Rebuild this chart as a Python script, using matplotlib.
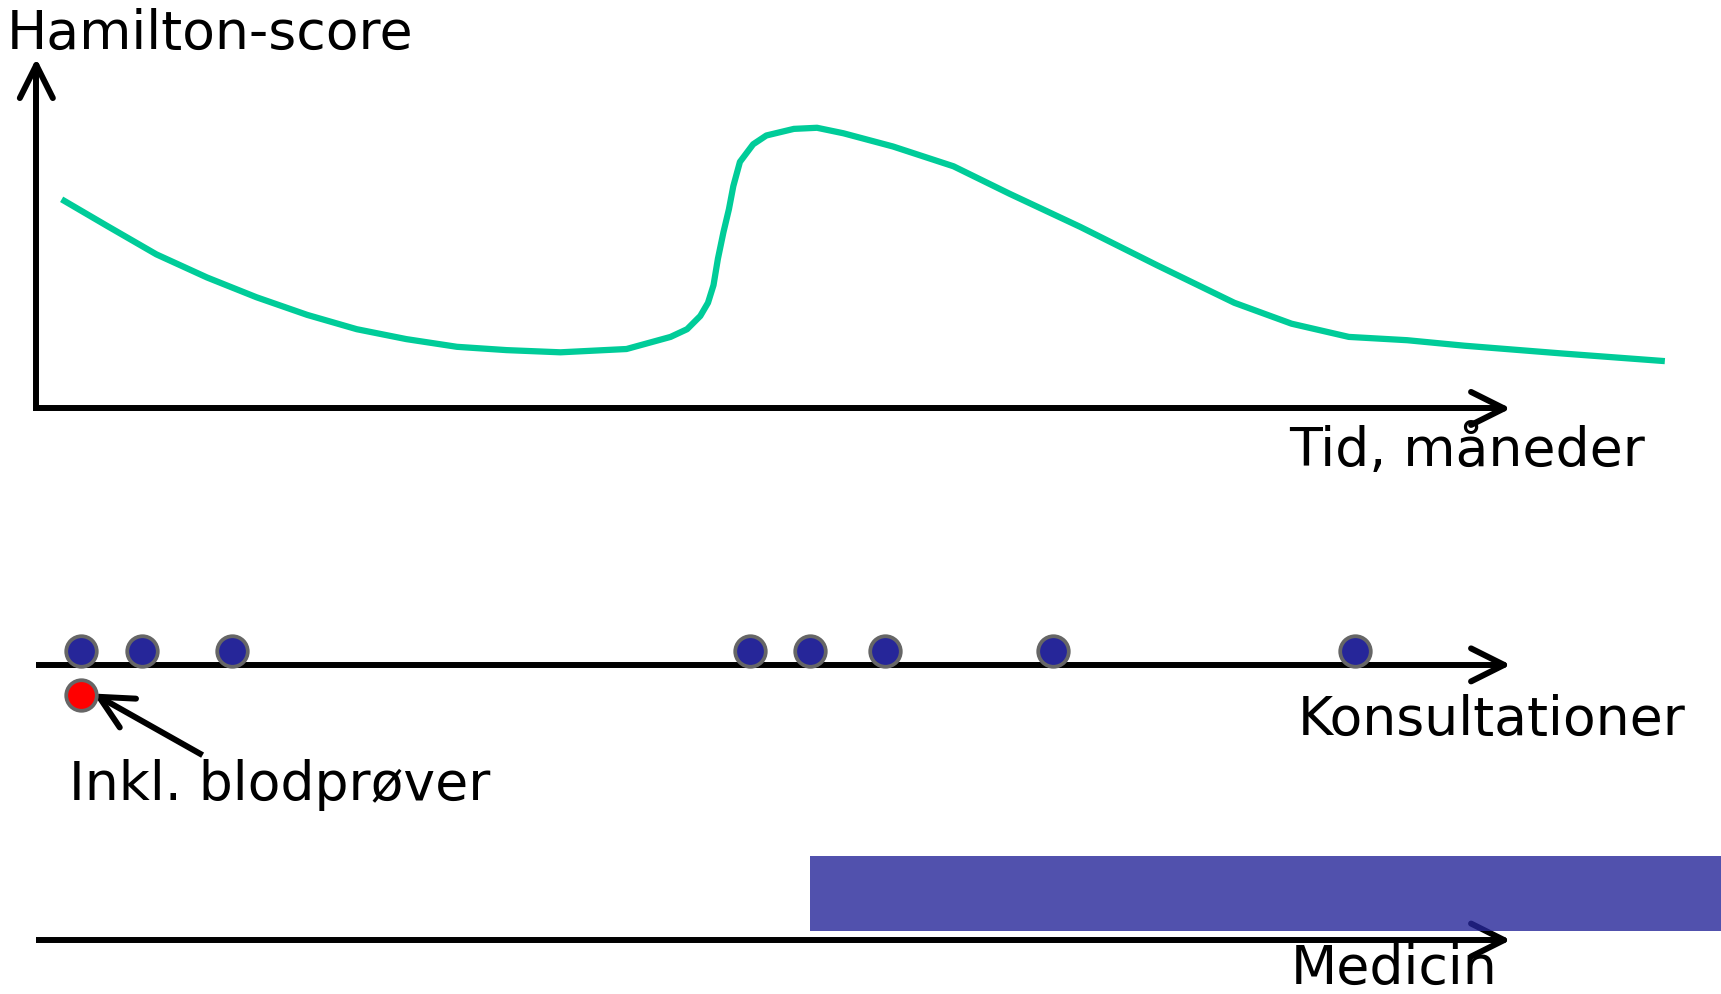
import numpy as np
import matplotlib.pyplot as plt

# canvas units (reference picture scaled to 1563 x 904)
W, H = 1563, 904

# Hamilton-score curve (y grows downwards)
hamilton_t = [56, 97, 142, 188, 233, 279, 324, 369, 415, 460, 509, 569, 609,
              624, 636, 643, 648, 652, 657, 662, 666, 672, 684, 696, 721, 742,
              766, 811, 866, 917, 981, 1051, 1121, 1173, 1225, 1278, 1330,
              1418, 1512]
hamilton_y = [182, 206, 232, 253, 271, 287, 300, 309, 316, 319, 321, 318, 307,
              300, 288, 276, 260, 236, 212, 191, 170, 148, 132, 124, 118, 117,
              122, 134, 152, 177, 207, 242, 276, 295, 307, 310, 315,
              322, 329]

# consultations and blood test
konsultationer_t = [74, 129, 211, 681, 736, 804, 956, 1231]
blodprove_t = [74]

# medication period
medicin_start = 736
medicin_end = 1563

axis_x0 = 33
axis_x1 = 1366
y_tid = 372
y_kons = 605
y_med = 855

fig = plt.figure(figsize=(17.21, 9.95), dpi=100)
ax = fig.add_axes([0, 0, 1, 1])
ax.set_xlim(0, W)
ax.set_ylim(H, 0)
ax.axis('off')

LW = 4.3


def draw_arrow(x0, y0, x1, y1, head_len=30, head_w=15):
    ax.plot([x0, x1], [y0, y1], color='black', lw=LW, solid_capstyle='butt', zorder=2)
    d = np.array([x1 - x0, y1 - y0], dtype=float)
    d /= np.hypot(*d)
    n = np.array([-d[1], d[0]])
    tip = np.array([x1, y1])
    back = tip - d * head_len
    for s in (1, -1):
        p = back + s * n * head_w
        ax.plot([p[0], tip[0]], [p[1], tip[1]], color='black', lw=LW,
                solid_capstyle='round', zorder=2)


# Hamilton panel
draw_arrow(axis_x0, y_tid + 2, axis_x0, 60)
draw_arrow(axis_x0, y_tid, axis_x1, y_tid)
ax.plot(hamilton_t, hamilton_y, color='#00CC99', lw=4.5, solid_capstyle='butt',
        solid_joinstyle='round', zorder=3)

# consultations
draw_arrow(axis_x0, y_kons, axis_x1, y_kons)
ax.plot(konsultationer_t, [y_kons - 13] * len(konsultationer_t), 'o', ms=22,
        mfc='#262699', mec='#666666', mew=2.7, zorder=4)
ax.plot(blodprove_t, [y_kons + 27] * len(blodprove_t), 'o', ms=22,
        mfc='#FF0000', mec='#666666', mew=2.7, zorder=4)
draw_arrow(184, 687, 90, 634, head_len=30, head_w=15)

# medication
draw_arrow(axis_x0, y_med, axis_x1, y_med)
ax.barh(813, medicin_end - medicin_start, left=medicin_start, height=68,
        color='#262699', alpha=0.8, zorder=5)

fs = 38.6
ax.text(6, 44, 'Hamilton-score', fontsize=fs, va='baseline', ha='left')
ax.text(1171, 423, 'Tid, måneder', fontsize=fs, va='baseline', ha='left')
ax.text(1179, 668, 'Konsultationer', fontsize=fs, va='baseline', ha='left')
ax.text(63, 727, 'Inkl. blodprøver', fontsize=fs, va='baseline', ha='left')
ax.text(1172, 894, 'Medicin', fontsize=fs, va='baseline', ha='left')

fig.savefig('out.png', dpi=100)
